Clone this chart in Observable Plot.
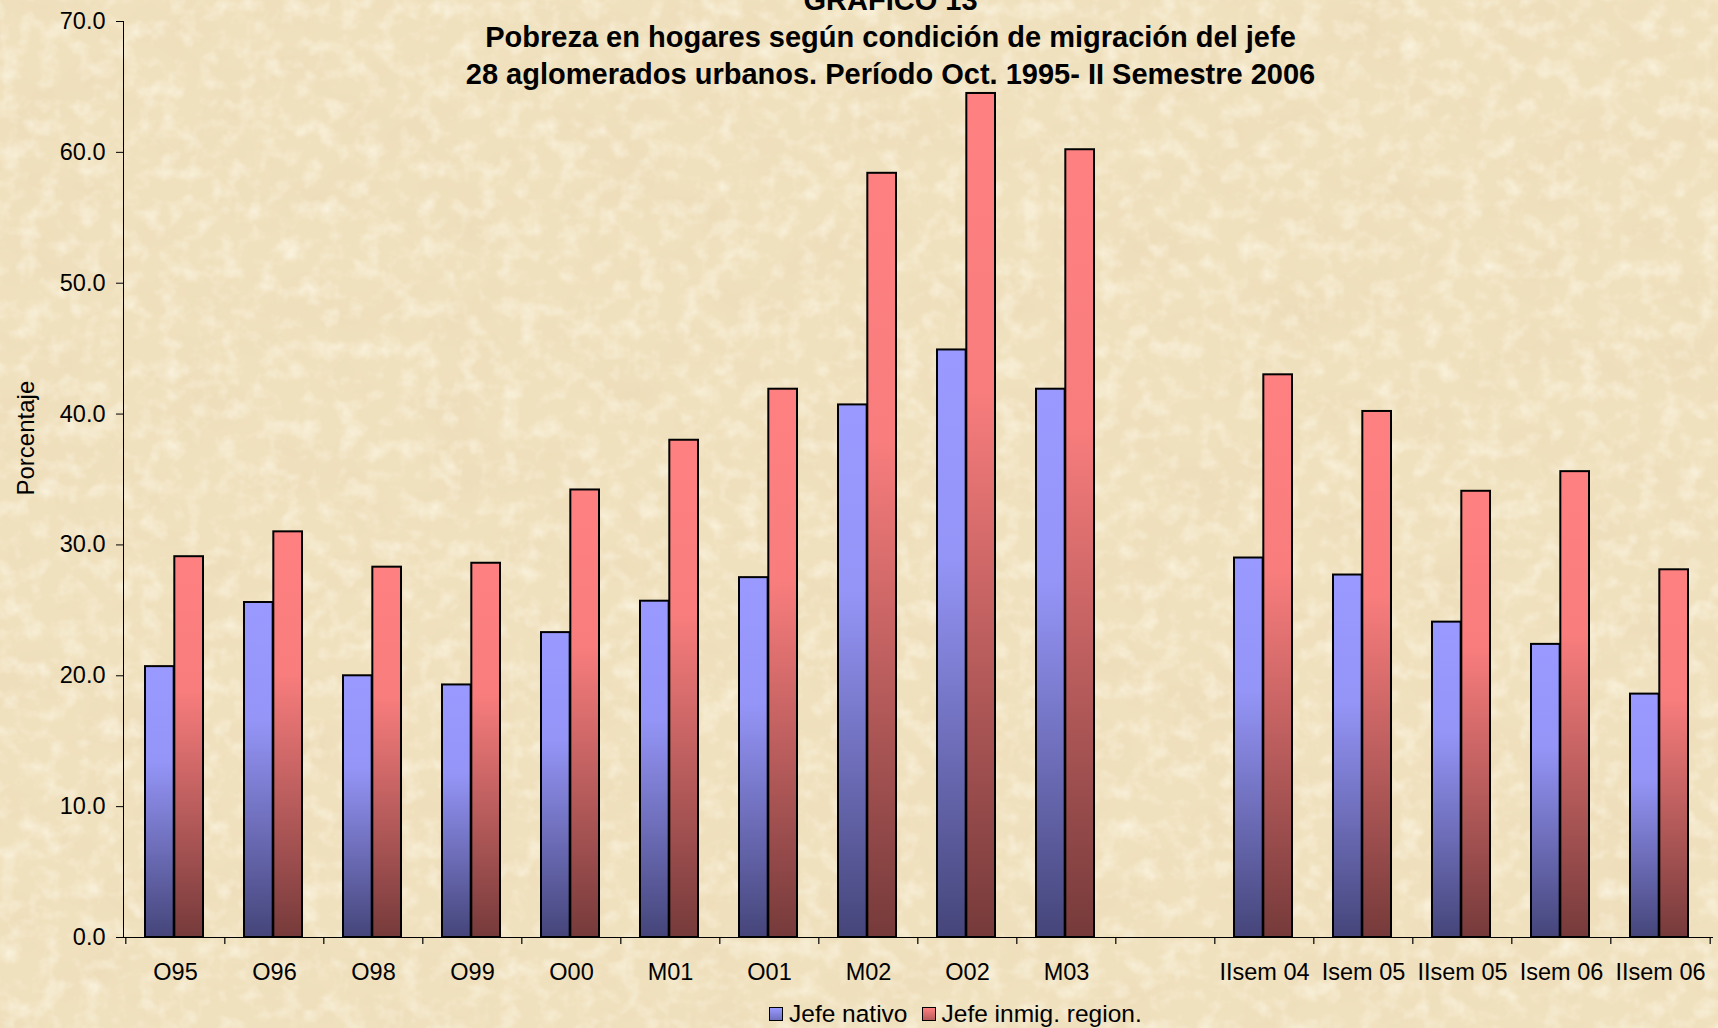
<!DOCTYPE html>
<html>
<head>
<meta charset="utf-8">
<script src="https://cdn.jsdelivr.net/npm/d3@7"></script>
<script src="https://cdn.jsdelivr.net/npm/@observablehq/plot@0.6"></script>
<style>
  html, body { margin: 0; padding: 0; }
  body {
    width: 1718px; height: 1028px; overflow: hidden; position: relative;
    background-color: #f0e1be;
    font-family: "Liberation Sans", Arial, sans-serif;
  }
  #tex { position: absolute; left: 0; top: 0; }
  #chart { position: absolute; left: 0; top: 0; }
  #chart svg { overflow: visible; display: block; }
  #legend {
    position: absolute; left: 769px; top: 1000px; height: 28px;
    display: flex; align-items: center; font-size: 24.5px; color: #000; white-space: nowrap;
  }
  #legend .sw { display: inline-block; width: 12px; height: 12px; border: 1.5px solid #000; margin-right: 6px; }
  #legend .item { display: flex; align-items: center; margin-right: 14px; }
</style>
</head>
<body>
<svg id="tex" width="1718" height="1028">
  <defs>
    <filter id="paper" x="0" y="0" width="100%" height="100%">
      <feTurbulence type="fractalNoise" baseFrequency="0.012 0.018" numOctaves="4" seed="7" result="t"/>
      <feColorMatrix in="t" type="matrix" values="0 0 0 0 0.84  0 0 0 0 0.70  0 0 0 0 0.47  1.4 0 0 0 -0.62" />
    </filter>
    <filter id="paper2" x="0" y="0" width="100%" height="100%">
      <feTurbulence type="fractalNoise" baseFrequency="0.05" numOctaves="3" seed="3" result="t"/>
      <feColorMatrix in="t" type="matrix" values="0 0 0 0 1  0 0 0 0 0.97  0 0 0 0 0.86  0 1.3 0 0 -0.6" />
    </filter>
    <linearGradient id="gBlue" x1="0" y1="0" x2="0" y2="1">
      <stop offset="0" stop-color="#9999ff"/>
      <stop offset="0.35" stop-color="#9595f8"/>
      <stop offset="1" stop-color="#45457a"/>
    </linearGradient>
    <linearGradient id="gRed" x1="0" y1="0" x2="0" y2="1">
      <stop offset="0" stop-color="#ff8080"/>
      <stop offset="0.35" stop-color="#f97d7d"/>
      <stop offset="1" stop-color="#763a3a"/>
    </linearGradient>
  </defs>
  <rect width="1718" height="1028" filter="url(#paper)"/>
  <rect width="1718" height="1028" filter="url(#paper2)"/>
</svg>
<div id="chart"></div>
<div id="legend"></div>
<script>
// ---- data ----
const categories = ["O95","O96","O98","O99","O00","M01","O01","M02","O02","M03","","IIsem 04","Isem 05","IIsem 05","Isem 06","IIsem 06"];
const jefeNativo = [20.7,25.6,20.0,19.3,23.3,25.7,27.5,40.7,44.9,41.9,null,29.0,27.7,24.1,22.4,18.6];
const jefeInmig  = [29.1,31.0,28.3,28.6,34.2,38.0,41.9,58.4,64.5,60.2,null,43.0,40.2,34.1,35.6,28.1];
const seriesNames = ["Jefe nativo","Jefe inmig. region."];
const yTicks = [0,10,20,30,40,50,60,70];
const titleLines = ["GRAFICO 13","Pobreza en hogares según condición de migración del jefe","28 aglomerados urbanos. Período Oct. 1995- II Semestre 2006"];
const yLabel = "Porcentaje";

// ---- layout ----
const W = 1718, H = 990, mL = 123, mR = 5, mT = 21, mB = 53;
const pad = 0.41;
const step = (W - mL - mR) / categories.length;
const bw = step * (1 - pad);

const rowsN = categories.map((c, i) => ({cat: c, v: jefeNativo[i]})).filter(d => d.v != null);
const rowsI = categories.map((c, i) => ({cat: c, v: jefeInmig[i]})).filter(d => d.v != null);

const plot = Plot.plot({
  width: W, height: H,
  marginLeft: mL, marginRight: mR, marginTop: mT, marginBottom: mB,
  style: {background: "transparent", fontFamily: "'Liberation Sans', Arial, sans-serif", fontSize: "23.5px", color: "#000", overflow: "visible"},
  x: {domain: categories, paddingInner: pad, paddingOuter: pad / 2, label: null, tickSize: 0, tickPadding: 26},
  y: {domain: [0, 70], ticks: yTicks, tickFormat: d3.format(".1f"), tickSize: 7, tickPadding: 11, label: null, line: true},
  marks: [
    Plot.barY(rowsN, {x: "cat", y1: 0, y2: "v", fill: "url(#gBlue)", stroke: "#000", strokeWidth: 2, insetRight: bw / 2, dx: -1}),
    Plot.barY(rowsI, {x: "cat", y1: 0, y2: "v", fill: "url(#gRed)", stroke: "#000", strokeWidth: 2, insetLeft: bw / 2, dx: -1}),
    Plot.ruleY([0], {stroke: "#000", strokeWidth: 1.2}),
    Plot.ruleX(categories, {x: d => d, y1: 0, y2: 0, insetBottom: -7, dx: -step / 2, stroke: "#000", strokeWidth: 1.2}),
    Plot.ruleX(categories.slice(-1), {x: d => d, y1: 0, y2: 0, insetBottom: -7, dx: step / 2, stroke: "#000", strokeWidth: 1.2}),
    Plot.text([titleLines.join("\n")], {frameAnchor: "top", dx: -28, dy: 14, lineAnchor: "middle", lineHeight: 1.27, fontSize: 29, fontWeight: "bold", fill: "#000"}),
    Plot.text([yLabel], {frameAnchor: "left", dx: -97, dy: 16, rotate: -90, fontSize: 24, fill: "#000"})
  ]
});
document.getElementById("chart").appendChild(plot);

// ---- legend ----
const leg = document.getElementById("legend");
const grads = ["linear-gradient(#9999ff, #6f6fc0)", "linear-gradient(#ff8080, #b85a5a)"];
seriesNames.forEach((n, i) => {
  const it = document.createElement("span");
  it.className = "item";
  const sw = document.createElement("span");
  sw.className = "sw";
  sw.style.background = grads[i];
  it.appendChild(sw);
  it.appendChild(document.createTextNode(n));
  leg.appendChild(it);
});
</script>
</body>
</html>
